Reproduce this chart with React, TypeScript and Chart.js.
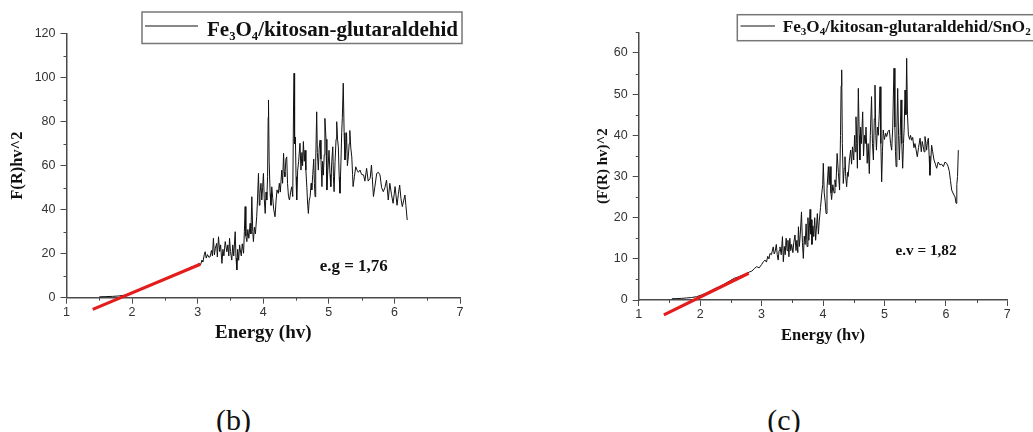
import React, { useEffect, useRef } from "react";
import { Chart, registerables } from "chart.js";

Chart.register(...registerables);

// ---------- Panel (b): Fe3O4/kitosan-glutaraldehid ----------
const labelB = "Fe3O4/kitosan-glutaraldehid";
const energyB = [
  1.5, 1.6, 1.7, 1.8, 1.88, 1.95, 2.02, 2.1, 2.18, 2.26,
  2.34, 2.42, 2.48, 2.54, 2.6, 2.66, 2.72, 2.78, 2.84, 2.9,
  2.96, 3.02, 3.045, 3.065, 3.08, 3.1, 3.115, 3.13, 3.15, 3.17,
  3.19, 3.21, 3.225, 3.24, 3.255, 3.27, 3.29, 3.3, 3.318, 3.335,
  3.35, 3.37, 3.385, 3.4, 3.42, 3.445, 3.46, 3.475, 3.486, 3.5,
  3.52, 3.535, 3.55, 3.572, 3.585, 3.597, 3.61, 3.625, 3.64, 3.65,
  3.665, 3.68, 3.7, 3.712, 3.724, 3.735, 3.75, 3.765, 3.78, 3.8,
  3.812, 3.826, 3.84, 3.85, 3.865, 3.88, 3.9, 3.912, 3.927, 3.94,
  3.95, 3.965, 3.978, 3.99, 4.003, 4.015, 4.03, 4.042, 4.054, 4.066,
  4.075, 4.08, 4.09, 4.105, 4.118, 4.13, 4.145, 4.16, 4.18, 4.195,
  4.21, 4.23, 4.245, 4.26, 4.282, 4.295, 4.31, 4.32, 4.33, 4.345,
  4.358, 4.37, 4.385, 4.4, 4.418, 4.434, 4.45, 4.462, 4.47, 4.478,
  4.49, 4.5, 4.51, 4.525, 4.54, 4.56, 4.575, 4.59, 4.6, 4.612,
  4.625, 4.637, 4.65, 4.665, 4.678, 4.688, 4.7, 4.715, 4.73, 4.74,
  4.755, 4.77, 4.78, 4.79, 4.8, 4.815, 4.825, 4.84, 4.853, 4.866,
  4.88, 4.895, 4.905, 4.916, 4.93, 4.94, 4.957, 4.97, 4.985, 5.003,
  5.018, 5.03, 5.045, 5.06, 5.07, 5.08, 5.095, 5.11, 5.12, 5.133,
  5.145, 5.158, 5.17, 5.185, 5.196, 5.206, 5.22, 5.233, 5.246, 5.26,
  5.27, 5.283, 5.297, 5.31, 5.32, 5.335, 5.35, 5.362, 5.37, 5.39,
  5.41, 5.43, 5.45, 5.475, 5.5, 5.53, 5.55, 5.576, 5.6, 5.63,
  5.65, 5.662, 5.68, 5.7, 5.73, 5.755, 5.78, 5.805, 5.83, 5.855,
  5.88, 5.906, 5.93, 5.955, 5.98, 6.01, 6.04, 6.06, 6.08, 6.1,
  6.12, 6.14, 6.16, 6.175, 6.195,
];
const valueB = [
  0.4, 0.5, 0.6, 0.8, 1.1, 1.7, 2.4, 3.3, 4.4, 5.3,
  6.4, 7.3, 8.4, 8.9, 9.8, 10.6, 11.0, 12.1, 12.8, 13.9,
  14.3, 15.6, 15.0, 17.1, 16.2, 19.5, 20.9, 18.0, 19.6, 18.4,
  18.6, 21.5, 19.0, 27.0, 19.5, 22.5, 24.7, 18.5, 27.7, 21.0,
  24.0, 15.6, 22.0, 19.0, 25.5, 20.9, 24.0, 19.0, 27.0, 21.0,
  17.1, 24.0, 19.0, 30.0, 18.0, 12.6, 22.0, 17.0, 24.0, 21.7,
  19.0, 24.5, 20.2, 30.0, 41.4, 28.0, 25.5, 31.0, 27.0, 33.8,
  29.0, 45.9, 30.0, 25.5, 32.0, 29.0, 36.8, 44.0, 56.5, 42.0,
  47.4, 52.0, 44.4, 50.0, 56.5, 45.0, 38.3, 48.0, 44.4, 55.0,
  82.0, 89.9, 62.0, 47.4, 42.0, 50.4, 45.0, 40.0, 36.8, 44.0,
  49.0, 47.4, 52.0, 48.0, 58.0, 52.0, 65.6, 57.0, 55.0, 63.0,
  64.0, 52.0, 46.0, 44.4, 48.0, 50.4, 46.0, 88.0, 102.0, 70.0,
  73.0, 55.0, 44.4, 58.0, 62.0, 70.2, 58.0, 66.0, 60.0, 71.0,
  62.0, 67.0, 58.0, 50.0, 42.0, 38.3, 44.0, 46.0, 52.0, 49.0,
  56.0, 63.0, 52.0, 45.9, 62.0, 84.5, 66.0, 58.0, 68.0, 71.6,
  63.0, 50.5, 62.0, 55.7, 65.0, 81.5, 72.0, 49.0, 58.0, 67.0,
  56.0, 50.5, 62.0, 68.6, 55.0, 48.2, 62.0, 72.0, 80.0, 72.0,
  68.6, 55.0, 47.5, 62.0, 75.0, 82.0, 97.5, 75.0, 62.6, 68.0,
  75.0, 60.0, 64.0, 70.0, 76.0, 68.0, 64.0, 56.0, 50.5, 55.0,
  59.5, 58.0, 57.0, 58.0, 56.0, 55.8, 53.0, 58.8, 53.0, 54.3,
  60.3, 55.0, 46.0, 50.0, 56.5, 57.0, 55.8, 50.0, 48.2, 50.0,
  53.5, 44.4, 52.0, 47.0, 42.9, 50.5, 42.0, 47.0, 51.2, 45.0,
  41.4, 44.0, 46.7, 42.0, 35.3,
];
const fitEnergyB = [1.4, 3.04];
const fitValueB = [-5.3, 15.2];
const yTicksB = [0, 20, 40, 60, 80, 100, 120];
const yMinorB = [10, 30, 50, 70, 90, 110];
const noteB = "e.g = 1,76";

// ---------- Panel (c): Fe3O4/kitosan-glutaraldehid/SnO2 ----------
const labelC = "Fe3O4/kitosan-glutaraldehid/SnO2";
const energyC = [
  1.54, 1.62, 1.7, 1.78, 1.86, 1.94, 2.02, 2.1, 2.18, 2.26,
  2.34, 2.42, 2.5, 2.56, 2.62, 2.68, 2.74, 2.8, 2.84, 2.88,
  2.92, 2.96, 3.0, 3.03, 3.056, 3.08, 3.1, 3.12, 3.137, 3.16,
  3.19, 3.205, 3.22, 3.24, 3.255, 3.27, 3.285, 3.3, 3.32, 3.34,
  3.354, 3.37, 3.385, 3.4, 3.415, 3.43, 3.445, 3.46, 3.475, 3.49,
  3.51, 3.525, 3.544, 3.56, 3.575, 3.59, 3.6, 3.615, 3.63, 3.65,
  3.665, 3.68, 3.695, 3.71, 3.725, 3.74, 3.755, 3.77, 3.79, 3.8,
  3.81, 3.82, 3.835, 3.85, 3.865, 3.88, 3.895, 3.908, 3.925, 3.94,
  3.96, 3.98, 3.995, 4.005, 4.02, 4.035, 4.05, 4.065, 4.087, 4.1,
  4.114, 4.13, 4.14, 4.16, 4.18, 4.195, 4.21, 4.23, 4.25, 4.27,
  4.285, 4.295, 4.304, 4.315, 4.33, 4.345, 4.358, 4.37, 4.385, 4.4,
  4.41, 4.43, 4.45, 4.465, 4.48, 4.5, 4.515, 4.525, 4.537, 4.55,
  4.56, 4.575, 4.59, 4.6, 4.612, 4.625, 4.646, 4.66, 4.675, 4.69,
  4.7, 4.72, 4.735, 4.754, 4.77, 4.79, 4.805, 4.82, 4.835, 4.846,
  4.86, 4.87, 4.885, 4.9, 4.915, 4.928, 4.942, 4.955, 4.968, 4.98,
  5.0, 5.02, 5.036, 5.06, 5.08, 5.1, 5.118, 5.135, 5.146, 5.156,
  5.17, 5.18, 5.19, 5.203, 5.216, 5.23, 5.243, 5.256, 5.27, 5.283,
  5.297, 5.31, 5.322, 5.335, 5.35, 5.362, 5.375, 5.39, 5.41, 5.425,
  5.443, 5.46, 5.48, 5.497, 5.515, 5.535, 5.555, 5.58, 5.6, 5.615,
  5.633, 5.645, 5.66, 5.675, 5.687, 5.7, 5.715, 5.728, 5.74, 5.755,
  5.768, 5.785, 5.807, 5.83, 5.85, 5.875, 5.904, 5.93, 5.96, 5.985,
  6.013, 6.035, 6.057, 6.075, 6.095, 6.115, 6.132, 6.15, 6.165, 6.178,
  6.19, 6.203,
];
const valueC = [
  0.3, 0.35, 0.4, 0.5, 0.6, 0.8, 1.2, 1.7, 2.3, 2.9,
  3.4, 4.1, 4.8, 5.3, 5.6, 6.0, 6.3, 6.8, 7.0, 7.6,
  8.1, 7.8, 8.6, 9.3, 9.7, 9.2, 10.6, 10.0, 11.3, 11.0,
  12.9, 11.2, 11.7, 13.5, 11.0, 9.7, 12.0, 12.9, 11.0, 15.4,
  9.3, 13.0, 11.0, 15.0, 12.0, 14.5, 10.5, 15.0, 12.0, 13.5,
  11.5, 14.0, 15.8, 12.0, 14.5, 11.5, 17.8, 13.0, 16.0, 21.4,
  14.0, 10.1, 15.5, 13.5, 18.5, 13.0, 20.0, 14.5, 22.0, 16.0,
  19.5, 13.5, 18.0, 15.4, 20.0, 14.5, 18.0, 21.0, 16.0, 19.4,
  22.5, 25.9, 28.0, 33.2, 26.0, 24.0, 21.0, 27.0, 32.4, 28.0,
  32.4, 26.0, 24.4, 28.0, 26.0, 29.2, 27.5, 35.6, 31.0, 26.7,
  40.0, 52.0, 55.9, 38.0, 28.3, 32.0, 34.8, 30.0, 27.5, 31.0,
  30.0, 34.0, 36.4, 33.0, 37.2, 34.0, 40.0, 36.0, 44.5, 38.0,
  32.0, 51.4, 40.0, 34.0, 42.0, 38.0, 45.7, 35.0, 40.0, 38.0,
  42.0, 33.2, 38.0, 30.7, 40.0, 49.4, 38.0, 34.0, 44.0, 52.2,
  40.0, 36.4, 42.0, 40.0, 45.0, 51.8, 38.0, 28.7, 36.0, 41.3,
  39.0, 40.5, 39.7, 41.0, 41.3, 38.0, 36.4, 42.0, 50.0, 56.3,
  42.0, 36.0, 32.4, 42.0, 51.4, 40.0, 34.0, 40.0, 48.6, 38.0,
  32.0, 38.0, 42.0, 51.0, 45.0, 58.7, 45.0, 40.1, 39.0, 40.0,
  38.8, 39.5, 37.0, 38.0, 36.5, 34.8, 37.0, 39.3, 36.0, 38.5,
  37.2, 36.0, 39.7, 38.0, 36.4, 38.5, 39.3, 35.0, 30.3, 34.0,
  37.6, 36.0, 34.0, 33.0, 32.0, 33.5, 32.8, 33.0, 32.4, 33.5,
  33.2, 32.5, 31.2, 29.0, 26.7, 26.0, 25.5, 25.0, 23.5, 28.0,
  30.0, 36.4,
];
const fitEnergyC = [1.41, 2.79];
const fitValueC = [-3.6, 6.5];
const yTicksC = [0, 10, 20, 30, 40, 50, 60];
const yMinorC = [5, 15, 25, 35, 45, 55, 65];
const noteC = "e.v = 1,82";

// ---------- shared axis ticks ----------
const xTicks = [1, 2, 3, 4, 5, 6, 7];
const xMinor = [1.5, 2.5, 3.5, 4.5, 5.5, 6.5];
const xTitle = "Energy (hv)";

const SERIF = '"Liberation Serif", "Times New Roman", serif';
const SANS = '"Liberation Sans", Arial, sans-serif';
const AXIS = "#4a4a4a";

function splitRuns(label: string) {
  const runs: { text: string; sub: boolean }[] = [];
  for (let i = 0; i < label.length; i++) {
    const ch = label[i];
    const sub = /[0-9]/.test(ch) && i > 0 && /[A-Za-z]/.test(label[i - 1]);
    const last = runs[runs.length - 1];
    if (last && last.sub === sub) last.text += ch;
    else runs.push({ text: ch, sub });
  }
  return runs;
}

const framedLegend = {
  id: "framedLegend",
  afterDraw(chart: any, _a: any, o: any) {
    const ds = chart.data.datasets[o.datasetIndex];
    const ctx = chart.ctx;
    ctx.save();
    ctx.lineWidth = o.frameWidth;
    ctx.strokeStyle = o.frameColor;
    ctx.strokeRect(o.left, o.top, o.width, o.height);
    ctx.beginPath();
    ctx.lineWidth = ds.borderWidth;
    ctx.strokeStyle = ds.borderColor;
    ctx.moveTo(o.sampleLeft, o.sampleY);
    ctx.lineTo(o.sampleLeft + o.sampleLength, o.sampleY);
    ctx.stroke();
    const runs = splitRuns(ds.label);
    const mainF = `bold ${o.fontSize}px ${SERIF}`;
    const subF = `bold ${Math.round(o.fontSize * 0.62)}px ${SERIF}`;
    let total = 0;
    for (const r of runs) {
      ctx.font = r.sub ? subF : mainF;
      total += ctx.measureText(r.text).width;
    }
    const sx = o.textWidth ? o.textWidth / total : 1;
    ctx.translate(o.textLeft, o.baseline);
    ctx.scale(sx, 1);
    ctx.fillStyle = "#111";
    ctx.textAlign = "left";
    ctx.textBaseline = "alphabetic";
    let x = 0;
    for (const r of runs) {
      ctx.font = r.sub ? subF : mainF;
      ctx.fillText(r.text, x, r.sub ? o.fontSize * 0.2 : 0);
      x += ctx.measureText(r.text).width;
    }
    ctx.restore();
  },
};

const minorTicks = {
  id: "minorTicks",
  afterDraw(chart: any, _a: any, o: any) {
    const { ctx, scales } = chart;
    const xs = scales.x;
    const ys = scales.y;
    ctx.save();
    ctx.strokeStyle = o.color;
    ctx.lineWidth = o.width;
    ctx.beginPath();
    const y0 = ys.bottom;
    for (const v of o.xValues) {
      const px = Math.round(xs.getPixelForValue(v)) + 0.5;
      ctx.moveTo(px, y0);
      ctx.lineTo(px, y0 + o.length);
    }
    const x0 = xs.left;
    for (const v of o.yValues) {
      const py = Math.round(ys.getPixelForValue(v)) + 0.5;
      ctx.moveTo(x0, py);
      ctx.lineTo(x0 - o.length, py);
    }
    ctx.stroke();
    ctx.restore();
  },
};

const noteText = {
  id: "noteText",
  afterDraw(chart: any, _a: any, o: any) {
    const { ctx, scales } = chart;
    const px = scales.x.getPixelForValue(o.x);
    const py = scales.y.getPixelForValue(o.y);
    ctx.save();
    ctx.font = `bold ${o.fontSize}px ${SERIF}`;
    const w = ctx.measureText(o.text).width;
    const sx = o.textWidth ? o.textWidth / w : 1;
    ctx.translate(px, py);
    ctx.scale(sx, 1);
    ctx.fillStyle = "#111";
    ctx.textAlign = "center";
    ctx.textBaseline = "middle";
    ctx.fillText(o.text, 0, 0);
    ctx.restore();
  },
};

type Spec = {
  label: string;
  energy: number[];
  value: number[];
  fitE: number[];
  fitV: number[];
  yMax: number;
  yTicks: number[];
  yMinor: number[];
  yTitle: string;
  yTitleSize: number;
  yTitlePad: number;
  xTitleSize: number;
  tickSize: number;
  padding: { left: number; top: number; right: number; bottom: number };
  yWidth: number;
  xHeight: number;
  legend: any;
  note: any;
};

function makeConfig(s: Spec): any {
  return {
    type: "line",
    data: {
      datasets: [
        {
          label: "fit",
          data: s.fitE.map((e, i) => ({ x: e, y: s.fitV[i] })),
          borderColor: "rgb(228,28,28)",
          borderWidth: 3.2,
          pointRadius: 0,
          tension: 0,
          clip: false,
        },
        {
          label: s.label,
          data: s.energy.map((e, i) => ({ x: e, y: s.value[i] })),
          borderColor: "#111111",
          borderWidth: 1,
          pointRadius: 0,
          tension: 0,
          clip: false,
        },
      ],
    },
    options: {
      responsive: false,
      animation: false,
      events: [],
      layout: { padding: s.padding },
      plugins: {
        legend: { display: false },
        tooltip: { enabled: false },
        framedLegend: s.legend,
        minorTicks: { xValues: xMinor, yValues: s.yMinor, length: 3, color: AXIS, width: 1 },
        noteText: s.note,
      },
      scales: {
        x: {
          type: "linear",
          min: 1,
          max: 7,
          afterBuildTicks: (sc: any) => {
            sc.ticks = xTicks.map((v) => ({ value: v }));
          },
          afterFit: (sc: any) => {
            sc.height = s.xHeight;
          },
          ticks: {
            autoSkip: false,
            maxRotation: 0,
            padding: 1,
            color: "#333",
            font: { family: SANS, size: s.tickSize },
          },
          grid: { drawOnChartArea: false, tickLength: 6, tickColor: AXIS, tickWidth: 1 },
          border: { display: true, color: AXIS, width: 1.5 },
          title: {
            display: true,
            text: xTitle,
            color: "#111",
            font: { family: SERIF, size: s.xTitleSize, weight: "bold" },
            padding: { top: 0, bottom: 4 },
          },
        },
        y: {
          type: "linear",
          min: 0,
          max: s.yMax,
          afterBuildTicks: (sc: any) => {
            sc.ticks = s.yTicks.map((v) => ({ value: v }));
          },
          afterFit: (sc: any) => {
            sc.width = s.yWidth;
          },
          ticks: {
            padding: 5,
            color: "#333",
            font: { family: SANS, size: s.tickSize },
          },
          grid: { drawOnChartArea: false, tickLength: 6, tickColor: AXIS, tickWidth: 1 },
          border: { display: true, color: AXIS, width: 1.5 },
          title: {
            display: true,
            text: s.yTitle,
            color: "#111",
            font: { family: SERIF, size: s.yTitleSize, weight: "bold" },
            padding: { top: s.yTitlePad, bottom: 0 },
          },
        },
      },
    },
    plugins: [minorTicks, framedLegend, noteText],
  };
}

const specB: Spec = {
  label: labelB,
  energy: energyB,
  value: valueB,
  fitE: fitEnergyB,
  fitV: fitValueB,
  yMax: 120,
  yTicks: yTicksB,
  yMinor: yMinorB,
  yTitle: "F(R)hv^2",
  yTitleSize: 16.5,
  yTitlePad: 8,
  xTitleSize: 19,
  tickSize: 12.5,
  padding: { left: 0, top: 33.7, right: 40, bottom: 2 },
  yWidth: 66.5,
  xHeight: 50.3,
  legend: {
    datasetIndex: 1,
    left: 142,
    top: 12,
    width: 320,
    height: 31.5,
    frameColor: "#777",
    frameWidth: 1.5,
    sampleLeft: 145,
    sampleLength: 53,
    sampleY: 26,
    textLeft: 207,
    textWidth: 251,
    fontSize: 20,
    baseline: 36,
  },
  note: { text: noteB, x: 5.38, y: 13.9, fontSize: 16, textWidth: 68 },
};

const specC: Spec = {
  label: labelC,
  energy: energyC,
  value: valueC,
  fitE: fitEnergyC,
  fitV: fitValueC,
  yMax: 65,
  yTicks: yTicksC,
  yMinor: yMinorC,
  yTitle: "(F(R) hv)^2",
  yTitleSize: 15,
  yTitlePad: 4,
  xTitleSize: 16.5,
  tickSize: 12.5,
  padding: { left: 30, top: 32.4, right: 25.7, bottom: 10.8 },
  yWidth: 48.7,
  xHeight: 49.2,
  legend: {
    datasetIndex: 1,
    left: 177.3,
    top: 14.7,
    width: 340,
    height: 26,
    frameColor: "#777",
    frameWidth: 1.5,
    sampleLeft: 180.5,
    sampleLength: 34.5,
    sampleY: 26,
    textLeft: 222.7,
    textWidth: 248,
    fontSize: 17,
    baseline: 31.7,
  },
  note: { text: noteC, x: 5.677, y: 11.9, fontSize: 15, textWidth: 61 },
};

function Panel({ spec, left, width, height }: { spec: Spec; left: number; width: number; height: number }) {
  const ref = useRef<HTMLCanvasElement>(null);
  useEffect(() => {
    const chart = new Chart(ref.current as HTMLCanvasElement, makeConfig(spec));
    return () => chart.destroy();
  }, [spec]);
  return (
    <canvas
      ref={ref}
      width={width}
      height={height}
      style={{ position: "absolute", left, top: 0, width, height, display: "block" }}
    />
  );
}

const captionStyle = (center: number): React.CSSProperties => ({
  position: "absolute",
  left: center - 50,
  top: 405,
  width: 100,
  textAlign: "center",
  fontFamily: SERIF,
  fontSize: 30,
  lineHeight: "30px",
  color: "#111",
});

export default function App() {
  return (
    <div
      style={{
        position: "absolute",
        left: 0,
        top: 0,
        width: 1033,
        height: 432,
        overflow: "hidden",
        background: "#fff",
      }}
    >
      <Panel spec={specB} left={0} width={500} height={350} />
      <Panel spec={specC} left={560} width={473} height={360} />
      <div style={captionStyle(233.5)}>(b)</div>
      <div style={captionStyle(784)}>(c)</div>
    </div>
  );
}
